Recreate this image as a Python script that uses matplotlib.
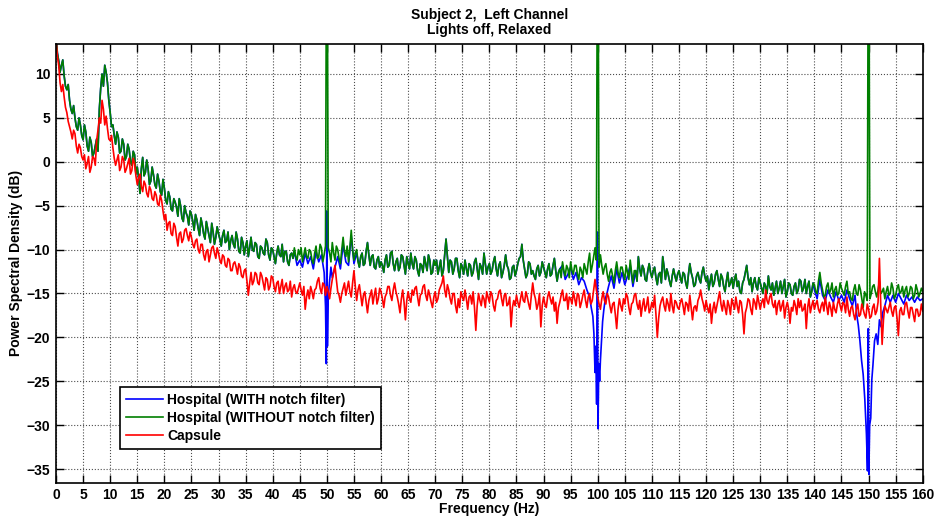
import numpy as np
import matplotlib
matplotlib.use("Agg")
import matplotlib.pyplot as plt

plt.rcParams['font.family'] = ['Liberation Sans', 'DejaVu Sans']
plt.rcParams['font.weight'] = 'bold'

# frequency bins of the spectrum (Hz)
bin_step = 0.25
freq = np.arange(0, 160 + bin_step / 2, bin_step)

# Hospital recording WITHOUT notch filter (dB) at 0, 0.5, 1.0 ... 160 Hz
green_db = [
    14.5, 11.5, 11.0, 9.8, 8.2, 7.0, 5.5, 5.0, 3.6, 4.2,
    2.5, 3.4, 1.2, 2.2, 1.0, 2.6, 6.0, 10.0, 11.0, 9.0,
    5.6, 4.2, 2.0, 2.8, 1.2, 2.0, 0.6, 1.4, -0.4, 0.8,
    -0.6, -3.6, 0.5, -1.2, -0.8, -2.2, -1.5, -3.0, -2.2, -3.8,
    -3.0, -4.8, -4.0, -5.6, -4.6, -6.2, -5.0, -6.8, -5.8, -7.2,
    -6.0, -7.8, -6.6, -8.4, -7.2, -8.8, -7.6, -9.2, -8.0, -8.6,
    -8.2, -9.6, -7.8, -9.0, -10.0, -8.4, -9.8, -8.8, -10.4, -9.2,
    -9.6, -10.8, -8.6, -10.2, -9.4, -11.0, -9.8, -10.6, -9.2, -11.2,
    -10.0, -11.6, -9.6, -10.8, -11.4, -10.2, -11.8, -10.4, -9.8, -11.2,
    -10.6, -11.4, -9.8, -11.0, -10.2, -11.6, -9.6, -10.8, -9.8, -10.6,
    40.0, -10.4, -9.2, -11.2, -10.0, -11.6, -8.6, -10.8, -11.4, -7.8,
    -11.2, -10.0, -12.0, -10.4, -11.6, -9.2, -11.8, -10.6, -12.2, -10.8,
    -11.4, -12.6, -10.6, -11.8, -10.2, -12.4, -11.0, -12.0, -10.8, -12.8,
    -11.6, -10.4, -12.2, -11.2, -13.0, -11.8, -10.8, -12.4, -11.2, -12.6,
    -11.8, -12.8, -11.2, -12.4, -8.8, -12.6, -11.4, -12.2, -11.0, -13.2,
    -12.0, -11.2, -13.0, -11.8, -12.6, -11.0, -13.4, -12.0, -10.4, -12.8,
    -11.6, -12.4, -10.8, -13.0, -11.4, -12.6, -10.6, -12.2, -13.2, -11.8,
    -12.4, -11.0, -9.4, -12.2, -12.8, -11.6, -12.4, -13.4, -11.8, -12.6,
    -12.0, -13.2, -11.6, -12.8, -11.0, -13.6, -12.2, -11.4, -13.0, -12.2,
    -11.4, -12.8, -11.8, -13.4, -12.4, -11.6, -12.8, -10.4, -11.8, -9.8,
    40.0, -10.6, -12.8, -11.6, -13.6, -12.2, -13.8, -11.4, -13.2, -12.0,
    -13.4, -12.6, -11.2, -13.8, -12.4, -10.8, -13.0, -12.2, -13.6, -11.6,
    -13.2, -12.0, -14.0, -12.6, -10.8, -13.4, -12.8, -14.2, -12.2, -13.6,
    -12.4, -13.8, -12.8, -14.4, -11.6, -13.2, -14.0, -12.6, -13.8, -12.0,
    -13.6, -14.6, -12.8, -13.8, -12.4, -14.2, -13.2, -14.8, -12.6, -13.8,
    -14.4, -12.8, -13.6, -15.0, -13.4, -11.8, -14.0, -14.8, -13.2, -14.6,
    -13.8, -15.0, -14.2, -13.0, -14.6, -15.2, -13.6, -14.4, -15.0, -13.4,
    -14.8, -14.0, -15.2, -13.8, -14.6, -13.6, -14.4, -15.0, -13.6, -14.8,
    -14.0, -15.0, -12.6, -14.6, -15.2, -13.8, -14.6, -15.4, -14.2, -15.0,
    -14.4, -15.2, -13.6, -14.8, -15.8, -14.0, -15.2, -14.6, -16.6, -15.2,
    40.0, -15.0, -14.0, -15.4, -13.6, -14.8, -15.6, -14.2, -15.0, -14.4,
    -15.2, -14.0, -14.8, -15.4, -14.2, -15.0, -14.4, -15.2, -14.6, -15.0,
    -14.8,
]
# same trace at the in-between bins 0.25, 0.75 ... 159.75 Hz
green_mid_db = [
    12.4, 10.2, 11.6, 8.6, 8.8, 6.0, 6.4, 4.0, 5.0, 3.0,
    4.2, 1.8, 2.8, 0.6, 1.8, 1.2, 8.4, 8.6, 10.2, 7.0,
    4.0, 3.0, 3.4, 1.0, 2.6, 0.2, 2.0, 0.0, 1.2, -1.4,
    -1.8, -0.8, -1.6, 0.2, -2.6, -0.6, -2.6, -1.4, -3.4, -2.0,
    -4.4, -3.4, -5.4, -4.2, -5.2, -4.2, -6.4, -5.0, -6.2, -5.6,
    -6.8, -6.0, -7.6, -6.4, -8.2, -6.8, -8.4, -7.0, -9.4, -7.4,
    -8.8, -8.4, -9.2, -8.0, -9.0, -9.4, -8.0, -10.2, -8.6, -10.6,
    -9.0, -9.8, -10.0, -9.2, -10.8, -9.6, -10.4, -8.8, -10.6, -9.8,
    -10.8, -10.4, -10.6, -9.4, -10.2, -11.4, -10.6, -11.0, -10.8, -10.0,
    -9.8, -10.6, -10.8, -10.0, -11.2, -10.4, -11.0, -9.4, -11.4, -9.6,
    -9.8, -11.4, -10.4, -9.6, -11.0, -10.0, -10.2, -9.6, -9.8, -10.0,
    -10.4, -11.4, -10.8, -11.8, -10.2, -10.6, -10.8, -12.0, -11.2, -12.0,
    -11.8, -11.2, -12.0, -10.4, -11.6, -11.4, -12.4, -10.6, -11.8, -10.8,
    -12.2, -11.6, -10.8, -12.4, -11.6, -12.6, -11.6, -10.6, -12.8, -11.2,
    -11.2, -12.0, -13.0, -10.6, -10.8, -11.2, -12.8, -11.0, -12.4, -11.6,
    -12.8, -12.2, -11.6, -13.0, -11.4, -12.2, -11.6, -12.8, -11.6, -12.0,
    -12.8, -11.4, -12.2, -11.8, -13.2, -11.8, -11.8, -13.4, -12.0, -13.0,
    -11.6, -10.8, -11.2, -13.2, -11.4, -12.8, -13.0, -12.2, -13.0, -11.4,
    -12.6, -12.2, -13.0, -11.8, -12.4, -12.6, -13.2, -12.4, -11.8, -13.2,
    -12.4, -11.8, -12.8, -12.0, -13.2, -12.2, -11.4, -12.6, -10.8, -11.2,
    -12.0, -11.8, -12.0, -12.8, -12.6, -13.0, -12.4, -12.6, -12.0, -12.8,
    -11.8, -13.4, -12.6, -12.4, -13.6, -12.2, -11.8, -13.4, -12.4, -12.6,
    -12.4, -13.2, -12.8, -13.8, -12.0, -12.2, -13.6, -13.0, -13.0, -12.8,
    -13.2, -12.6, -13.8, -12.8, -12.6, -14.2, -13.0, -13.4, -12.6, -13.0,
    -13.0, -13.6, -14.2, -12.8, -13.4, -12.8, -14.2, -13.6, -14.2, -13.2,
    -13.4, -14.2, -14.8, -13.8, -12.6, -13.2, -13.2, -13.8, -14.2, -13.2,
    -14.4, -13.8, -15.0, -14.2, -13.8, -14.4, -15.0, -13.6, -14.2, -15.4,
    -13.8, -15.0, -14.2, -15.0, -13.4, -14.8, -13.4, -14.2, -15.4, -13.8,
    -14.8, -13.6, -13.8, -15.4, -14.2, -15.0, -13.8, -14.6, -15.2, -13.8,
    -14.8, -14.2, -15.0, -15.6, -14.6, -15.0, -14.0, -15.6, -14.8, -15.8,
    -15.6, -14.2, -14.8, -14.6, -15.0, -14.4, -14.8, -15.2, -13.8, -15.6,
    -14.4, -15.0, -14.2, -14.6, -15.4, -14.2, -15.6, -14.0, -15.4, -14.4,
]

# Capsule recording (dB) at 0, 0.5, 1.0 ... 160 Hz
red_db = [
    14.0, 11.0, 8.0, 7.4, 5.6, 4.0, 2.6, 3.2, 1.0, 1.6,
    0.2, -0.8, 0.6, -0.6, 0.4, 2.4, 5.0, 7.0, 4.2, 3.8,
    2.4, 1.6, -0.4, 0.8, -0.6, 0.2, -0.8, 0.4, -1.0, -0.2,
    -2.6, -1.4, -3.4, -2.6, -4.0, -3.2, -4.4, -3.8, -5.0, -4.4,
    -6.6, -7.8, -6.8, -8.4, -7.4, -9.6, -8.0, -8.8, -7.6, -9.0,
    -8.6, -9.8, -8.8, -10.4, -9.4, -11.2, -10.0, -10.6, -9.6, -11.0,
    -10.4, -11.6, -10.8, -12.0, -11.2, -12.4, -11.4, -12.8, -12.0, -13.2,
    -12.2, -15.2, -12.6, -13.6, -12.8, -14.0, -13.0, -14.6, -13.4, -14.2,
    -13.2, -14.8, -13.6, -14.2, -15.0, -13.8, -14.6, -15.4, -14.0, -15.0,
    -13.8, -15.2, -16.8, -14.6, -14.2, -15.6, -14.4, -13.2, -15.0, -14.0,
    -14.2, -15.6, -13.4, -11.8, -14.8, -16.0, -14.4, -15.2, -13.6, -15.4,
    -12.4, -15.8, -14.0, -16.4, -14.8, -17.2, -15.2, -16.2, -14.4, -15.6,
    -14.8, -16.6, -15.0, -14.2, -15.8, -13.8, -15.4, -17.2, -14.6, -18.0,
    -14.8, -16.0, -15.2, -14.2, -16.4, -15.0, -14.0, -15.8, -15.2, -16.6,
    -14.8, -15.6, -14.2, -13.0, -15.4, -14.6, -16.2, -15.0, -17.2, -16.6,
    -15.4, -14.6, -16.8, -15.2, -14.8, -19.2, -15.0, -16.4, -15.6, -14.8,
    -16.0, -15.2, -17.0, -15.6, -14.6, -16.4, -15.0, -16.2, -18.8, -15.8,
    -15.2, -16.6, -14.8, -16.0, -15.4, -16.8, -13.8, -15.6, -16.2, -18.8,
    -15.4, -16.6, -14.8, -16.2, -17.0, -18.4, -16.0, -14.6, -15.8, -16.8,
    -15.6, -14.8, -16.4, -15.2, -16.0, -14.6, -16.6, -15.0, -15.8, -13.4,
    -15.4, -16.8, -14.8, -16.2, -15.4, -17.2, -16.0, -19.0, -15.6, -17.0,
    -16.2, -15.4, -17.4, -16.0, -15.0, -16.8, -17.6, -15.6, -16.4, -17.2,
    -16.0, -15.2, -20.0, -16.4, -15.4, -17.0, -16.2, -15.0, -17.2, -16.0,
    -16.8, -15.6, -17.4, -16.2, -15.2, -18.0, -16.4, -15.8, -14.6, -16.2,
    -15.8, -17.2, -18.4, -16.0, -16.4, -14.8, -17.0, -16.6, -15.8, -17.4,
    -16.2, -15.4, -17.2, -16.0, -19.6, -16.6, -15.8, -17.4, -16.0, -15.2,
    -16.8, -15.6, -14.6, -16.2, -15.0, -16.6, -17.4, -15.8, -16.4, -17.8,
    -16.0, -18.4, -17.0, -16.4, -15.6, -15.8, -16.8, -19.0, -15.6, -16.4,
    -16.8, -15.8, -17.2, -16.0, -15.4, -17.4, -16.6, -16.0, -17.2, -15.6,
    -17.0, -16.2, -15.4, -17.6, -16.4, -18.0, -16.2, -17.4, -16.8, -17.8,
    -16.8, -17.6, -16.2, -17.0, -11.0, -20.8, -16.4, -17.2, -16.0, -17.6,
    -16.4, -19.8, -16.6, -17.4, -16.0, -17.8, -16.6, -18.2, -16.8, -17.4,
    -17.0,
]
# same trace at the in-between bins 0.25, 0.75 ... 159.75 Hz
red_mid_db = [
    12.0, 9.0, 8.8, 6.2, 4.6, 3.4, 3.6, 1.8, 2.0, 0.6,
    0.8, -0.2, -1.2, 0.6, -0.4, 3.6, 4.4, 6.0, 5.2, 2.6,
    3.0, 0.4, 0.2, -1.0, 0.6, -1.2, -0.2, -1.4, 0.4, -1.6,
    -1.8, -2.8, -2.2, -3.6, -2.8, -4.2, -3.4, -4.8, -3.8, -5.6,
    -6.0, -7.0, -8.2, -7.0, -8.6, -8.2, -9.2, -7.8, -8.4, -8.0,
    -9.4, -9.0, -10.0, -9.4, -10.6, -10.2, -11.4, -9.8, -10.4, -9.8,
    -11.2, -10.6, -11.8, -11.0, -12.4, -11.6, -12.0, -11.6, -13.0, -12.4,
    -13.6, -13.8, -14.0, -12.6, -13.8, -12.6, -13.8, -13.2, -14.6, -13.0,
    -14.2, -13.8, -15.0, -13.4, -14.2, -14.8, -13.6, -14.4, -14.8, -14.4,
    -14.6, -14.2, -15.4, -15.6, -14.8, -14.6, -13.6, -14.4, -13.8, -15.2,
    -14.8, -14.4, -12.6, -13.4, -15.2, -15.0, -13.8, -14.4, -14.8, -13.8,
    -14.2, -14.6, -15.2, -15.2, -16.0, -15.8, -14.6, -15.2, -16.2, -14.4,
    -15.6, -15.4, -14.2, -15.2, -14.6, -14.8, -16.2, -15.6, -16.0, -15.8,
    -15.6, -14.6, -14.4, -15.4, -15.2, -14.2, -15.2, -14.6, -16.0, -15.4,
    -16.0, -14.6, -13.8, -14.6, -14.0, -15.6, -15.0, -16.4, -15.6, -14.8,
    -15.8, -15.6, -15.4, -16.2, -16.6, -16.4, -15.8, -15.2, -16.6, -15.4,
    -14.8, -16.4, -15.8, -14.8, -15.6, -15.2, -16.4, -15.4, -16.6, -16.4,
    -16.0, -15.6, -15.8, -14.8, -16.2, -15.2, -15.0, -16.8, -15.0, -16.4,
    -16.2, -15.4, -15.6, -15.4, -16.0, -16.6, -15.2, -15.8, -15.0, -15.4,
    -16.2, -15.6, -15.0, -16.6, -15.2, -15.8, -15.4, -16.2, -14.6, -14.6,
    -16.2, -15.6, -15.8, -15.0, -16.4, -16.2, -17.4, -16.8, -16.4, -15.6,
    -15.0, -16.6, -16.2, -15.2, -16.2, -15.8, -16.4, -17.0, -15.4, -16.8,
    -16.6, -17.4, -17.8, -15.8, -16.4, -15.6, -17.0, -16.4, -15.8, -16.6,
    -16.0, -16.4, -16.0, -17.0, -16.6, -16.6, -17.0, -15.4, -15.6, -17.0,
    -16.6, -16.2, -16.8, -17.2, -15.6, -16.2, -15.8, -17.4, -16.4, -15.6,
    -16.8, -16.4, -15.8, -17.4, -17.2, -15.6, -16.8, -15.6, -16.8, -16.0,
    -16.0, -16.6, -15.8, -15.4, -16.2, -15.8, -16.2, -17.0, -15.8, -16.6,
    -16.8, -16.6, -15.8, -17.4, -16.6, -17.0, -16.2, -16.6, -17.2, -15.8,
    -16.2, -16.8, -16.4, -17.0, -16.4, -16.0, -17.6, -16.8, -16.2, -16.4,
    -16.0, -17.2, -16.8, -16.6, -17.4, -16.8, -17.6, -16.2, -17.4, -16.2,
    -17.8, -16.6, -17.4, -16.0, -16.4, -18.0, -16.8, -16.6, -17.0, -16.6,
    -17.8, -17.0, -17.4, -16.2, -17.0, -16.6, -17.4, -16.8, -17.6, -16.2,
]

# Hospital WITH notch filter: same as green outside the notch bands,
# read separately (finer) around 50, 100 and 150 Hz
notch1_f = [44, 44.5, 45, 45.5, 46, 46.5, 47, 47.5, 48, 48.5, 49, 49.5,
            49.75, 49.9, 50.0, 50.1, 50.25, 50.5, 50.75, 51, 51.5, 52,
            52.5, 53, 53.5, 54, 54.5, 55, 55.5, 56]
notch1_db = [-10.2, -11.8, -11.2, -12.0, -10.4, -11.6, -10.8, -12.2, -10.2,
             -11.4, -10.6, -12.6, -16.5, -23.0, -5.6, -21.0, -15.4, -13.6,
             -12.0, -13.2, -12.0, -10.8, -12.2, -9.4, -11.4, -11.8, -8.4,
             -11.6, -10.4, -12.0]
notch2_f = [93, 93.5, 94, 94.5, 95, 95.5, 96, 96.5, 97, 97.5, 98, 98.5,
            98.8, 99.1, 99.3, 99.5, 99.65, 99.8, 99.95, 100.05, 100.2,
            100.35, 100.5, 100.7, 100.9, 101.1, 101.4, 101.7, 102, 102.5,
            103, 103.5, 104, 104.5, 105, 105.5, 106, 106.5, 107]
notch2_db = [-12.2, -11.8, -13.4, -12.8, -12.0, -13.4, -12.6, -14.0, -13.2,
             -13.6, -14.6, -15.4, -16.6, -17.6, -19.6, -24.0, -21.0, -27.6,
             -8.0, -30.4, -23.0, -25.0, -22.6, -20.4, -18.2, -17.0, -15.6,
             -15.0, -14.2, -13.0, -14.4, -12.2, -13.8, -12.6, -14.0, -13.0,
             -11.8, -14.2, -12.4]
notch3_f = [140, 140.5, 141, 141.5, 142, 142.5, 143, 143.5, 144, 144.5,
            145, 145.5, 146, 146.5, 147, 147.5, 147.8, 148.1, 148.4, 148.7,
            149.0, 149.3, 149.6, 149.8, 149.95, 150.05, 150.2, 150.4, 150.6,
            150.8, 151.1, 151.4, 151.7, 152.0, 152.3, 152.6, 153, 153.5,
            154, 154.5, 155, 155.5, 156, 156.5, 157, 157.5, 158, 158.5,
            159, 159.5, 160]
notch3_db = [-14.6, -15.6, -13.4, -15.2, -15.8, -14.6, -15.4, -16.0, -14.8,
             -15.8, -15.2, -16.0, -14.6, -15.6, -16.4, -15.2, -17.4, -18.6,
             -20.4, -22.6, -24.2, -27.0, -31.0, -35.2, -19.0, -35.6, -30.0,
             -29.2, -24.8, -23.2, -20.4, -19.6, -20.8, -18.0, -18.8, -17.2,
             -16.4, -15.2, -16.0, -15.2, -16.0, -15.0, -15.6, -16.2, -15.2,
             -15.8, -15.4, -16.0, -15.4, -15.8, -15.6]

labels = ['Hospital (WITH notch filter)', 'Hospital (WITHOUT notch filter)', 'Capsule']
x_ticks = list(range(0, 161, 5))
y_ticks = list(range(-35, 11, 5))

green = np.empty(len(freq))
green[0::2] = green_db
green[1::2] = green_mid_db
red = np.empty(len(freq))
red[0::2] = red_db
red[1::2] = red_mid_db

m1 = freq < 44
m2 = (freq > 56) & (freq < 93)
m3 = (freq > 107) & (freq < 140)
blue_f = np.concatenate([freq[m1], notch1_f, freq[m2], notch2_f, freq[m3], notch3_f])
blue = np.concatenate([green[m1], notch1_db, green[m2], notch2_db, green[m3], notch3_db])

fig = plt.figure(figsize=(9.35, 5.22), dpi=100)
ax = fig.add_axes([0.0599, 0.0753, 0.927, 0.841])

ax.plot(blue_f, blue, color='#0000ff', lw=1.2, label=labels[0])
ax.plot(freq, green, color='#007f00', lw=1.2, label=labels[1])
ax.plot(freq, red, color='#ff0000', lw=1.2, label=labels[2])

ax.set_xlim(0, 160)
ax.set_ylim(-36.55, 13.45)
ax.set_xticks(x_ticks)
ax.set_yticks(y_ticks)
ax.grid(True, linestyle=':', color='0.3', lw=0.8)
ax.set_axisbelow(True)
ax.tick_params(direction='in', length=6, width=1.0, top=True, right=True,
               labelsize=10, pad=4)
for s in ax.spines.values():
    s.set_linewidth(1.2)

ax.set_title('Subject 2,  Left Channel\nLights off, Relaxed', fontsize=10,
             fontweight='bold', pad=7, linespacing=1.1)
ax.set_xlabel('Frequency (Hz)', fontsize=10, fontweight='bold', labelpad=0)
ax.set_ylabel('Power Spectral Density (dB)', fontsize=10, fontweight='bold', labelpad=3)

leg = ax.legend(loc='lower left', bbox_to_anchor=(0.074, 0.077), borderaxespad=0,
                fancybox=False, edgecolor='black', framealpha=1, fontsize=10,
                handlelength=2.7, handletextpad=0.3, labelspacing=0.3,
                borderpad=0.4)
leg.get_frame().set_linewidth(1.2)

fig.savefig('out.png', dpi=100)
